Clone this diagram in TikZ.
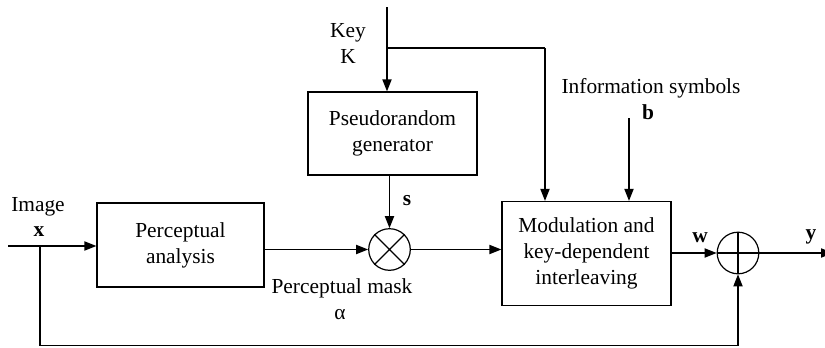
\documentclass[tikz,border=0pt]{standalone}
\usepackage{fontspec}
\setmainfont{Liberation Serif}
\usetikzlibrary{arrows.meta}
\begin{document}
\begin{tikzpicture}[x=0.5pt,y=-0.5pt,
  every node/.style={font=\fontsize{10.7}{13}\selectfont},
  blk/.style={draw, line width=0.6pt, inner sep=0pt, align=center},
  lbl/.style={inner sep=0pt, align=center},
  wire/.style={line width=0.6pt},
  arr/.style={wire, -{Triangle[length=6pt,width=4.6pt]}},
  opcirc/.style={draw, circle, line width=0.6pt, minimum size=20.8pt, inner sep=0pt}]
\useasboundingbox (0,0) rectangle (825,348);

% blocks
\node[blk, minimum width=83.5pt, minimum height=42pt] (pa) at (180.5,245) {Perceptual\\analysis};
\node[blk, minimum width=84.5pt, minimum height=41.5pt] (prg) at (392.5,133.5) {Pseudorandom\\generator};
\node[blk, minimum width=84.5pt, minimum height=52pt] (mod) at (586.5,253.5) {Modulation and\\key-dependent\\interleaving};

% multiplier and adder
\node[opcirc] (mul) at (389.5,249.5) {};
\draw[wire] (mul.north west) -- (mul.south east) (mul.north east) -- (mul.south west);
\node[opcirc] (add) at (738,253) {};
\draw[wire] (add.north) -- (add.south) (add.west) -- (add.east);

% labels
\node[lbl] (img) at (38,207) {Image};
\node[lbl] (xl) at (39,232) {\textbf{x}};
\node[lbl] (key) at (348,33) {Key};
\node[lbl] (kl) at (348,56) {K};
\node[lbl] (sl) at (407,201) {\textbf{s}};
\node[lbl] (info) at (651,88) {Information symbols};
\node[lbl] (bl) at (648,112) {\textbf{b}};
\node[lbl] (wl) at (700,238) {\textbf{w}};
\node[lbl] (yl) at (811,237) {\textbf{y}};
\node[lbl] (pm) at (342,288) {Perceptual mask};
\node[lbl] (al) at (340,315) {α};

% coordinates
\coordinate (xin) at (8,246);
\coordinate (xbr) at (40,246);
\coordinate (xlow) at (40,345.5);
\coordinate (keytop) at (387,7);
\coordinate (keybr) at (387,48);
\coordinate (keyr) at (545,48);
\coordinate (btop) at (629,118);
\coordinate (yout) at (833,253);

% connectors
\draw[arr] (xin) -- (pa.west |- xin);
\draw[wire] (xbr) -- (xlow) -- (add.south |- xlow);
\draw[arr] (add.south |- xlow) -- (add.south);
\draw[arr] (pa.east |- mul) -- (mul.west);
\draw[arr] (keytop) -- (prg.north -| keytop);
\draw[wire] (keybr) -- (keyr);
\draw[arr] (keyr) -- (mod.north -| keyr);
\draw[arr] (prg.south -| mul) -- (mul.north);
\draw[arr] (mul.east) -- (mod.west |- mul);
\draw[arr] (btop) -- (mod.north -| btop);
\draw[arr] (mod.east |- add) -- (add.west);
\draw[arr] (add.east) -- (yout);
\end{tikzpicture}
\end{document}
